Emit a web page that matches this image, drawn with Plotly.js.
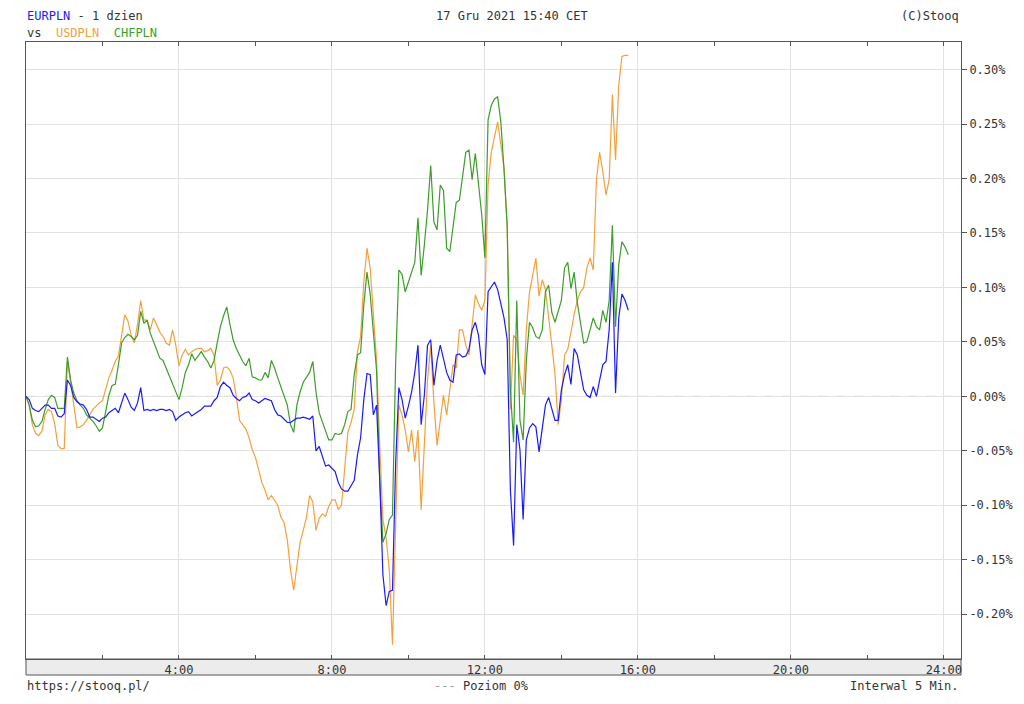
<!DOCTYPE html>
<html>
<head>
<meta charset="utf-8">
<script src="https://cdn.plot.ly/plotly-3.0.1.min.js"></script>
<style>
  html, body { margin: 0; padding: 0; background: #fff; }
  #chart { width: 1024px; height: 704px; }
</style>
</head>
<body>
<div id="chart"></div>
<script>
// Interval between quotes, minutes (series start at 0:00)
const interwalMin = 5;

// % change vs previous close, 5-minute steps from 0:00
const eurpln = [
  0.000,-0.003,-0.011,-0.013,-0.014,-0.011,-0.008,-0.008,-0.011,-0.011,
  -0.018,-0.019,-0.016,0.015,0.010,-0.001,-0.005,-0.007,-0.008,-0.012,
  -0.019,-0.019,-0.021,-0.023,-0.020,-0.019,-0.015,-0.013,-0.011,-0.015,
  -0.006,0.003,-0.003,-0.010,-0.013,-0.006,0.008,-0.013,-0.012,-0.013,
  -0.012,-0.013,-0.012,-0.012,-0.013,-0.012,-0.014,-0.022,-0.019,-0.017,
  -0.015,-0.014,-0.018,-0.016,-0.014,-0.012,-0.009,-0.009,-0.009,-0.004,
  -0.001,0.009,0.013,0.010,0.008,0.001,-0.002,-0.004,-0.001,0.000,
  0.003,-0.003,-0.004,-0.006,-0.004,-0.002,-0.003,-0.004,-0.012,-0.017,
  -0.018,-0.021,-0.024,-0.024,-0.022,-0.020,-0.020,-0.019,-0.020,-0.021,
  -0.018,-0.050,-0.046,-0.054,-0.064,-0.063,-0.066,-0.069,-0.079,-0.085,
  -0.087,-0.087,-0.082,-0.077,-0.054,-0.038,-0.003,0.021,0.020,-0.017,
  -0.008,-0.077,-0.164,-0.192,-0.179,-0.178,-0.061,0.008,-0.003,-0.020,
  -0.009,0.004,0.022,0.047,-0.026,0.001,0.047,0.052,0.010,0.033,
  0.047,0.033,0.022,0.015,0.013,0.038,0.039,0.036,0.037,0.043,
  0.061,0.068,0.056,0.029,0.020,0.096,0.100,0.105,0.098,0.086,
  0.072,0.052,-0.086,-0.137,-0.026,-0.049,-0.113,-0.040,-0.029,-0.025,
  -0.028,-0.051,-0.031,-0.008,-0.001,-0.012,-0.022,-0.022,0.006,0.020,
  0.029,0.011,0.044,0.038,0.022,0.006,0.001,-0.001,0.009,0.000,
  0.015,0.029,0.032,0.061,0.123,0.003,0.072,0.094,0.088,0.079
];
const usdpln = [
  0.000,-0.008,-0.026,-0.034,-0.036,-0.032,-0.017,-0.012,-0.014,-0.025,
  -0.045,-0.048,-0.048,0.032,0.013,-0.008,-0.029,-0.028,-0.026,-0.022,
  -0.017,-0.012,-0.009,-0.006,-0.004,0.006,0.017,0.024,0.032,0.037,
  0.056,0.075,0.069,0.056,0.049,0.066,0.088,0.070,0.070,0.061,
  0.072,0.066,0.059,0.055,0.049,0.047,0.061,0.047,0.028,0.038,
  0.043,0.038,0.041,0.043,0.044,0.044,0.041,0.042,0.044,0.038,
  0.010,0.015,0.026,0.027,0.024,0.017,0.000,-0.022,-0.026,-0.030,
  -0.038,-0.049,-0.056,-0.068,-0.079,-0.086,-0.095,-0.091,-0.095,-0.100,
  -0.111,-0.116,-0.132,-0.159,-0.178,-0.155,-0.134,-0.123,-0.111,-0.091,
  -0.097,-0.123,-0.112,-0.108,-0.110,-0.101,-0.095,-0.095,-0.104,-0.100,
  -0.063,-0.033,-0.024,-0.012,0.041,0.055,0.105,0.136,0.118,0.070,
  0.033,-0.045,-0.113,-0.130,-0.159,-0.228,-0.123,-0.008,-0.017,-0.031,
  -0.051,-0.031,-0.060,-0.031,-0.104,-0.040,0.015,0.047,-0.006,-0.045,
  -0.022,0.001,-0.017,0.006,0.029,0.026,0.061,0.061,0.047,0.038,
  0.064,0.093,0.085,0.079,0.088,0.194,0.224,0.237,0.252,0.231,
  0.210,0.156,-0.012,0.056,0.052,0.020,0.001,0.061,0.096,0.111,
  0.127,0.092,0.107,0.098,0.075,0.047,0.020,-0.026,-0.003,0.038,
  0.043,0.061,0.075,0.088,0.096,0.100,0.118,0.127,0.116,0.199,
  0.224,0.206,0.185,0.199,0.277,0.217,0.286,0.312,0.313,0.313
];
const chfpln = [
  0.000,-0.008,-0.022,-0.028,-0.027,-0.023,-0.012,-0.003,0.001,-0.001,
  -0.011,-0.011,-0.011,0.036,0.015,0.003,-0.004,-0.008,-0.011,-0.017,
  -0.020,-0.023,-0.027,-0.032,-0.029,-0.015,0.001,0.010,0.011,0.029,
  0.049,0.054,0.057,0.055,0.052,0.056,0.078,0.067,0.070,0.058,
  0.050,0.043,0.035,0.033,0.026,0.018,0.011,0.004,-0.003,0.008,
  0.022,0.029,0.039,0.033,0.037,0.041,0.036,0.032,0.026,0.033,
  0.049,0.064,0.074,0.082,0.066,0.052,0.044,0.038,0.032,0.028,
  0.035,0.018,0.017,0.015,0.015,0.022,0.017,0.033,0.026,0.017,
  0.009,0.000,-0.008,-0.026,-0.033,-0.008,0.004,0.013,0.017,0.022,
  0.032,0.004,-0.015,-0.023,-0.033,-0.040,-0.040,-0.034,-0.035,-0.034,
  -0.026,-0.014,-0.012,0.020,0.038,0.040,0.084,0.114,0.094,0.059,
  0.024,-0.077,-0.134,-0.126,-0.113,-0.109,0.031,0.116,0.112,0.096,
  0.105,0.112,0.123,0.164,0.111,0.139,0.171,0.212,0.160,0.153,
  0.194,0.189,0.136,0.133,0.155,0.178,0.180,0.202,0.224,0.226,
  0.199,0.223,0.196,0.167,0.127,0.254,0.267,0.273,0.275,0.252,
  0.208,0.156,0.006,-0.042,0.088,-0.022,-0.040,0.033,0.068,0.063,
  0.055,0.053,0.061,0.096,0.102,0.077,0.068,0.077,0.088,0.118,
  0.123,0.099,0.114,0.086,0.066,0.049,0.050,0.061,0.072,0.064,
  0.061,0.079,0.068,0.088,0.157,0.064,0.121,0.142,0.137,0.130
];

const seriesNames = ['USDPLN', 'CHFPLN', 'EURPLN'];
const seriesColors = ['#f5a03c', '#3c9d2a', '#1a1aff'];

const xTickVals = [4, 8, 12, 16, 20, 24];
const xTickText = ['4:00', '8:00', '12:00', '16:00', '20:00', '24:00'];
const yTickVals = [-0.20, -0.15, -0.10, -0.05, 0.00, 0.05, 0.10, 0.15, 0.20, 0.25, 0.30];
const yTickText = ['-0.20%', '-0.15%', '-0.10%', '-0.05%', '0.00%', '0.05%', '0.10%', '0.15%', '0.20%', '0.25%', '0.30%'];

const hours = eurpln.map((_, i) => i * interwalMin / 60);
const seriesData = [usdpln, chfpln, eurpln];

const traces = seriesData.map((vals, k) => ({
  type: 'scatter',
  mode: 'lines',
  name: seriesNames[k],
  x: hours,
  y: vals,
  line: { color: seriesColors[k], width: 1.2 },
  hoverinfo: 'skip'
}));

const FONT = 'DejaVu Sans Mono, monospace';
const W = 1024, H = 704;
const L = 26, R = 961, T = 42, B = 659;
const px = x => (x - L) / (R - L);
const py = y => (B - y) / (B - T);

const layout = {
  width: W, height: H,
  margin: { l: L, r: W - R, t: T, b: H - B, pad: 0 },
  paper_bgcolor: '#ffffff',
  plot_bgcolor: '#ffffff',
  showlegend: false,
  font: { family: FONT, size: 12, color: '#333' },
  xaxis: {
    range: [0, 24.45],
    tickvals: xTickVals,
    ticktext: xTickText,
    ticks: 'inside',
    ticklen: 4,
    tickcolor: '#555',
    showline: true,
    linecolor: '#555',
    linewidth: 1,
    mirror: 'ticks',
    showgrid: true,
    gridcolor: '#e2e2e2',
    gridwidth: 1,
    zeroline: false,
    tickfont: { family: FONT, size: 12, color: '#333' },
    minor: { dtick: 2, tick0: 0, ticks: 'inside', ticklen: 4, tickcolor: '#555', showgrid: false },
    fixedrange: true
  },
  yaxis: {
    side: 'right',
    range: [-0.2411, 0.3253],
    tickvals: yTickVals,
    ticktext: yTickText,
    ticks: 'outside',
    ticklen: 5,
    tickcolor: '#555',
    showline: true,
    linecolor: '#555',
    linewidth: 1,
    mirror: true,
    showgrid: true,
    gridcolor: '#e2e2e2',
    gridwidth: 1,
    zeroline: false,
    tickfont: { family: FONT, size: 12, color: '#333' },
    fixedrange: true
  },
  shapes: [
    { type: 'rect', layer: 'below', xref: 'paper', yref: 'paper',
      x0: 0, x1: 1, y0: py(675), y1: 0,
      fillcolor: '#ececec', line: { color: '#555', width: 1 } },
    { type: 'line', layer: 'below', xref: 'paper', yref: 'y',
      x0: 0, x1: 1, y0: 0, y1: 0,
      line: { color: '#a8a8a8', width: 1, dash: 'dash' } }
  ],
  annotations: [
    { xref: 'paper', yref: 'paper', x: px(25), y: py(16), xanchor: 'left', yanchor: 'middle', showarrow: false,
      text: '<span style="color:#1a1aff">EURPLN</span> - 1 dzien', font: { family: FONT, size: 12, color: '#333' } },
    { xref: 'paper', yref: 'paper', x: px(25), y: py(33), xanchor: 'left', yanchor: 'middle', showarrow: false,
      text: 'vs&nbsp; <span style="color:#f5a03c">USDPLN</span>&nbsp; <span style="color:#3c9d2a">CHFPLN</span>', font: { family: FONT, size: 12, color: '#333' } },
    { xref: 'paper', yref: 'paper', x: px(512), y: py(16), xanchor: 'center', yanchor: 'middle', showarrow: false,
      text: '17 Gru 2021 15:40 CET', font: { family: FONT, size: 12, color: '#333' } },
    { xref: 'paper', yref: 'paper', x: px(961), y: py(16), xanchor: 'right', yanchor: 'middle', showarrow: false,
      text: '(C)Stooq', font: { family: FONT, size: 12, color: '#333' } },
    { xref: 'paper', yref: 'paper', x: px(25), y: py(686), xanchor: 'left', yanchor: 'middle', showarrow: false,
      text: 'https://stooq.pl/', font: { family: FONT, size: 12, color: '#333' } },
    { xref: 'paper', yref: 'paper', x: px(481), y: py(686), xanchor: 'center', yanchor: 'middle', showarrow: false,
      text: '<span style="color:#999">---</span> Poziom 0%', font: { family: FONT, size: 12, color: '#333' } },
    { xref: 'paper', yref: 'paper', x: px(960), y: py(686), xanchor: 'right', yanchor: 'middle', showarrow: false,
      text: 'Interwal 5 Min.', font: { family: FONT, size: 12, color: '#333' } }
  ]
};

Plotly.newPlot('chart', traces, layout, { staticPlot: true, displayModeBar: false });
</script>
</body>
</html>
